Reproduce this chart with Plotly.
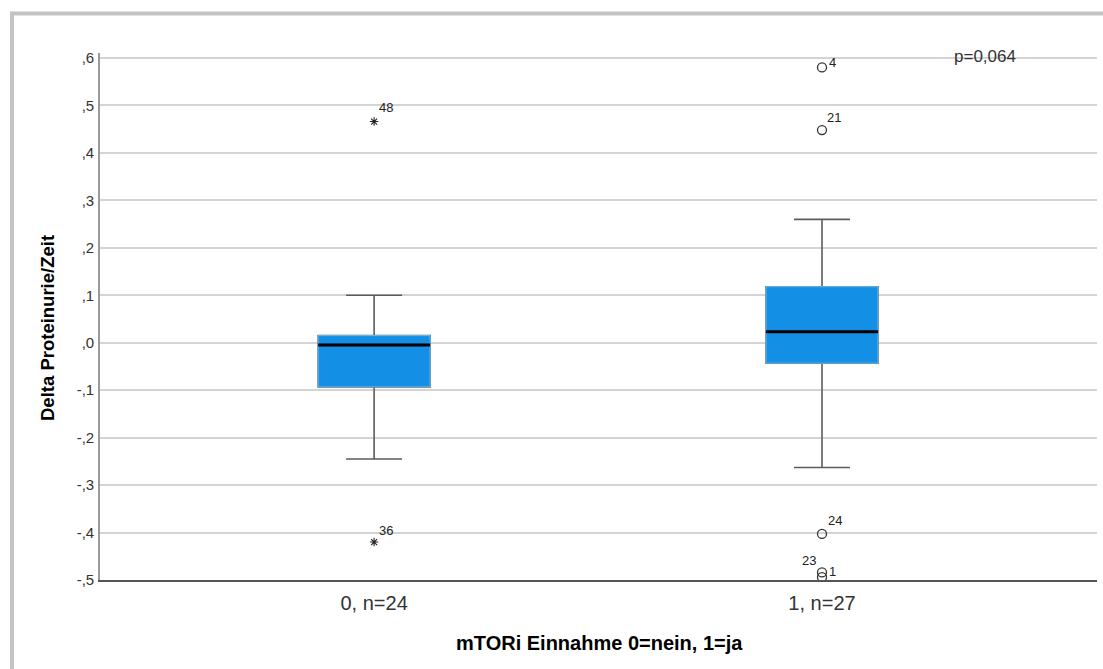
import plotly.graph_objects as go

# Group summary (box) statistics
groups = [0, 1]
group_labels = ["0, n=24", "1, n=27"]
q1 = [-0.093, -0.043]
median = [-0.005, 0.023]
q3 = [0.015, 0.118]
lower_whisker = [-0.245, -0.263]
upper_whisker = [0.100, 0.260]

# Outliers (circles) and extreme values (stars) with case numbers
out_group = [1, 1, 1, 1, 1]
out_value = [0.580, 0.448, -0.403, -0.484, -0.494]
out_case = ["4", "21", "24", "1", "23"]
ext_group = [0, 0]
ext_value = [0.466, -0.420]
ext_case = ["48", "36"]

y_ticks = [0.6, 0.5, 0.4, 0.3, 0.2, 0.1, 0.0, -0.1, -0.2, -0.3, -0.4, -0.5]
y_ticktext = [",6", ",5", ",4", ",3", ",2", ",1", ",0", "-,1", "-,2", "-,3", "-,4", "-,5"]

p_text = "p=0,064"

FONT = "Liberation Sans, Arial, sans-serif"
BOX_BLUE = "#138fe6"
BOX_W = 0.25

fig = go.Figure()

# whiskers (and box underneath)
fig.add_trace(go.Box(
    x=groups, q1=q1, median=median, q3=q3,
    lowerfence=lower_whisker, upperfence=upper_whisker,
    width=BOX_W, whiskerwidth=0.5,
    fillcolor=BOX_BLUE, line=dict(color="#5c5c5c", width=1.6),
    boxpoints=False, hoverinfo="skip", showlegend=False,
))
# box body with light edge
fig.add_trace(go.Box(
    x=groups, q1=q1, median=median, q3=q3,
    lowerfence=q1, upperfence=q3,
    width=BOX_W, whiskerwidth=0,
    fillcolor=BOX_BLUE, line=dict(color="#6fb9ef", width=1),
    boxpoints=False, hoverinfo="skip", showlegend=False,
))
# median lines
for g, m in zip(groups, median):
    fig.add_trace(go.Scatter(
        x=[g - BOX_W / 2, g + BOX_W / 2], y=[m, m], mode="lines",
        line=dict(color="black", width=3), hoverinfo="skip", showlegend=False,
    ))

# outliers
fig.add_trace(go.Scatter(
    x=out_group, y=out_value, mode="markers",
    marker=dict(symbol="circle-open", size=9, color="#333333", line=dict(width=1.3, color="#333333")),
    showlegend=False,
))
fig.add_trace(go.Scatter(
    x=ext_group, y=ext_value, mode="markers",
    marker=dict(symbol="asterisk-open", size=7, color="#222222", line=dict(width=1.1, color="#222222")),
    showlegend=False,
))

# case-number labels
label_shift = {"4": (10, 5), "21": (12, 13), "24": (13, 13), "1": (10, 1), "23": (-13, 17),
               "48": (12, 14), "36": (12, 12)}
for g, v, c in list(zip(out_group, out_value, out_case)) + list(zip(ext_group, ext_value, ext_case)):
    dx, dy = label_shift[c]
    fig.add_annotation(x=g, y=v, text=c, showarrow=False, xshift=dx, yshift=dy,
                       font=dict(family=FONT, size=13, color="#222222"))

# p-value
fig.add_annotation(x=(985 - 100) / 997, xref="paper", y=0.6, yref="y", text=p_text, showarrow=False,
                   xanchor="center", yanchor="middle", yshift=1,
                   font=dict(family=FONT, size=17, color="#333333"))

# axis titles
fig.add_annotation(x=(599 - 100) / 997, xref="paper", y=(580 - 643) / 527, yref="paper",
                   text="<b>mTORi Einnahme 0=nein, 1=ja</b>", showarrow=False,
                   xanchor="center", yanchor="middle",
                   font=dict(family=FONT, size=20, color="black"))
fig.add_annotation(x=(47 - 100) / 997, xref="paper", y=(580 - 328) / 527, yref="paper",
                   text="<b>Delta Proteinurie/Zeit</b>", showarrow=False, textangle=-90,
                   xanchor="center", yanchor="middle",
                   font=dict(family=FONT, size=18.5, color="black"))

# outer frame (left and top edges)
fig.add_shape(type="line", xref="paper", yref="paper",
              x0=-88 / 997, x1=-88 / 997, y0=(580 - 13.5) / 527, y1=-0.3,
              line=dict(color="#c3c3c3", width=4))
fig.add_shape(type="line", xref="paper", yref="paper",
              x0=-90 / 997, x1=1.1, y0=(580 - 13.5) / 527, y1=(580 - 13.5) / 527,
              line=dict(color="#c3c3c3", width=4))

fig.update_layout(
    width=1103, height=669,
    margin=dict(l=100, r=6, t=53, b=89),
    paper_bgcolor="white", plot_bgcolor="white",
    font=dict(family=FONT, color="#222222"),
    xaxis=dict(
        range=[-0.612, 1.614], tickvals=groups, ticktext=group_labels,
        showgrid=False, zeroline=False, showline=True, linecolor="#555555", linewidth=1.6,
        ticks="", tickfont=dict(family=FONT, size=20, color="#333333"),
        ticklabelstandoff=4,
    ),
    yaxis=dict(
        range=[-0.5, 0.6105], tickvals=y_ticks, ticktext=y_ticktext,
        showgrid=True, gridcolor="#d4d4d4", gridwidth=1.6, zeroline=False,
        showline=True, linecolor="#9a9a9a", linewidth=1.6,
        ticks="", tickfont=dict(family=FONT, size=15, color="#333333"),
        ticklabelstandoff=1,
    ),
)

fig.write_html("out.html")
